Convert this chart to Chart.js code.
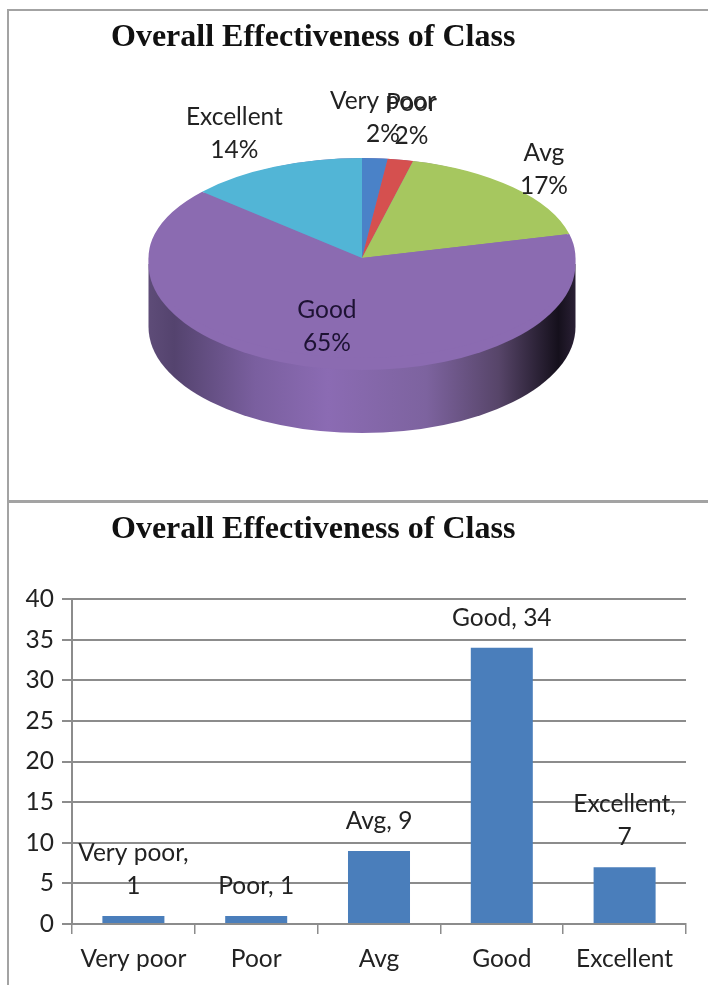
<!DOCTYPE html>
<html>
<head>
<meta charset="utf-8">
<title>Overall Effectiveness of Class</title>
<script src="https://cdn.jsdelivr.net/npm/chart.js@4"></script>
<style>
  body { margin: 0; background: #fff; }
  #page { position: relative; width: 708px; height: 985px; overflow: hidden; }
  canvas { position: absolute; left: 0; }
  #pieChart { top: 0; }
  #barChart { top: 503px; }
  .line { position: absolute; background: #a3a3a3; }
  .title { position: absolute; left: 111px; font: bold 32px "Liberation Serif", serif; color: #111; line-height: 36px; white-space: nowrap; }
</style>
</head>
<body>
<div id="page">
  <div class="line" style="left:7px;top:9px;width:2px;height:976px"></div>
  <div class="line" style="left:7px;top:9px;width:701px;height:2px"></div>
  <div class="line" style="left:8px;top:500px;width:700px;height:3px"></div>
  <canvas id="pieChart" width="708" height="500"></canvas>
  <canvas id="barChart" width="708" height="482"></canvas>
  <div class="title" style="top:17px">Overall Effectiveness of Class</div>
  <div class="title" style="top:509px">Overall Effectiveness of Class</div>
</div>
<script>
const categories = ['Very poor', 'Poor', 'Avg', 'Good', 'Excellent'];
const counts = [1, 1, 9, 34, 7];
const percents = ['2%', '2%', '17%', '65%', '14%'];
const yTicks = [0, 5, 10, 15, 20, 25, 30, 35, 40];
const sliceColors = ['#4a82c8', '#d5504f', '#a6c75f', '#8b6bb1', '#52b5d6'];
const wrapBarLabel = [true, false, false, false, true];

const labelFont = '24.5px Lato, sans-serif';
const lineGap = 33;

// label offset from the rim of each slice
const pieLabelOffset = [[8, -41], [11, -40], [31, -18], [16, -29], [-40, -33]];

const flatten = 100 / 213.5;

const pie3d = {
  id: 'pie3d',
  beforeDatasetsDraw(chart) {
    const c = chart.ctx;
    const arc = chart.getDatasetMeta(0).data[0];
    const cx = arc.x, cy = arc.y, rx = arc.outerRadius;
    const g = c.createLinearGradient(cx - rx, 0, cx + rx, 0);
    g.addColorStop(0, '#5e4c78');
    g.addColorStop(0.06, '#54436e');
    g.addColorStop(0.25, '#7a5f9f');
    g.addColorStop(0.42, '#8b6bb3');
    g.addColorStop(0.65, '#7d639f');
    g.addColorStop(0.82, '#574569');
    g.addColorStop(0.96, '#15101c');
    g.addColorStop(1, '#2a2035');
    c.save();
    c.fillStyle = g;
    c.beginPath();
    c.ellipse(cx, 327, rx, 106, 0, 0, Math.PI);
    c.lineTo(cx - rx, 264);
    c.lineTo(cx + rx, 264);
    c.closePath();
    c.fill();
    c.fillStyle = sliceColors[3];
    c.beginPath();
    c.ellipse(cx, 264, rx, 106, 0, 0, Math.PI * 2);
    c.fill();
    c.translate(cx, cy);
    c.scale(1, flatten);
    c.translate(-cx, -cy);
  },
  afterDatasetsDraw(chart) {
    chart.ctx.restore();
  },
  afterDraw(chart) {
    const c = chart.ctx;
    c.save();
    c.font = labelFont;
    c.textAlign = 'center';
    c.textBaseline = 'middle';
    chart.getDatasetMeta(0).data.forEach((arc, i) => {
      const mid = (arc.startAngle + arc.endAngle) / 2;
      const x = arc.x + Math.cos(mid) * arc.outerRadius + pieLabelOffset[i][0];
      const y = arc.y + Math.sin(mid) * arc.outerRadius * flatten + pieLabelOffset[i][1];
      c.fillStyle = categories[i] === 'Good' ? '#1d1233' : '#222';
      c.fillText(categories[i], x, y - lineGap / 2);
      c.fillText(percents[i], x, y + lineGap / 2);
    });
    c.restore();
  }
};

new Chart(document.getElementById('pieChart'), {
  type: 'pie',
  data: {
    labels: categories,
    datasets: [{ data: counts, backgroundColor: sliceColors, borderWidth: 0 }]
  },
  options: {
    responsive: false,
    animation: false,
    layout: { padding: { left: 16, top: 44.5, bottom: 28.5 } },
    plugins: { legend: { display: false }, tooltip: { enabled: false } }
  },
  plugins: [pie3d]
});

const barLabels = {
  id: 'barLabels',
  afterDatasetsDraw(chart) {
    const c = chart.ctx;
    c.save();
    c.font = labelFont;
    c.fillStyle = '#222';
    c.textAlign = 'center';
    c.textBaseline = 'middle';
    chart.getDatasetMeta(0).data.forEach((bar, i) => {
      const y = bar.y - 30;
      if (wrapBarLabel[i]) {
        c.fillText(categories[i] + ',', bar.x, y - lineGap);
        c.fillText(String(counts[i]), bar.x, y);
      } else {
        c.fillText(categories[i] + ', ' + counts[i], bar.x, y);
      }
    });
    c.restore();
  }
};

new Chart(document.getElementById('barChart'), {
  type: 'bar',
  data: {
    labels: categories,
    datasets: [{ data: counts, backgroundColor: '#4a7ebb', barPercentage: 0.505, categoryPercentage: 1 }]
  },
  options: {
    responsive: false,
    animation: false,
    layout: { padding: { top: 96, right: 22, left: 0, bottom: 0 } },
    plugins: { legend: { display: false }, tooltip: { enabled: false } },
    scales: {
      x: {
        afterFit(scale) { scale.height = 61; },
        grid: { drawOnChartArea: false, color: '#8c8c8c', lineWidth: 1.5, tickLength: 10 },
        border: { color: '#8c8c8c', width: 2 },
        ticks: { color: '#222', font: { family: 'Lato, sans-serif', size: 24.5 }, padding: 10, maxRotation: 0 }
      },
      y: {
        min: 0,
        max: 40,
        afterFit(scale) { scale.width = 72; },
        afterBuildTicks(scale) { scale.ticks = yTicks.map(v => ({ value: v })); },
        grid: { color: '#8c8c8c', lineWidth: 2, tickLength: 10 },
        border: { color: '#8c8c8c', width: 2 },
        ticks: { color: '#222', font: { family: 'Lato, sans-serif', size: 24.5 }, padding: 8 }
      }
    }
  },
  plugins: [barLabels]
});
</script>
</body>
</html>
